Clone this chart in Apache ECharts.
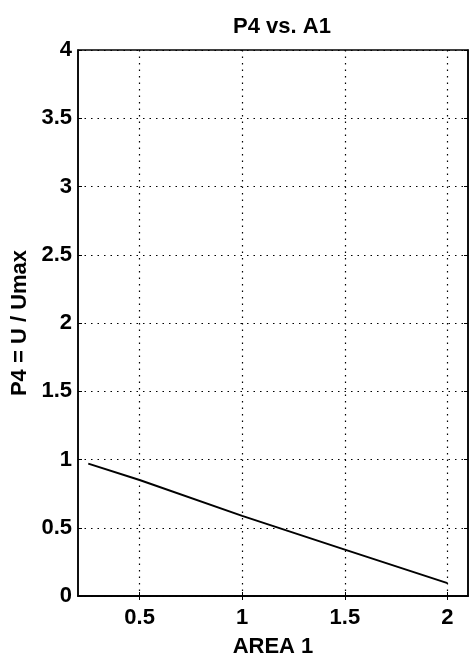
<!DOCTYPE html>
<html>
<head>
<meta charset="utf-8">
<script src="https://cdn.jsdelivr.net/npm/echarts@6/dist/echarts.min.js"></script>
<style>
  html, body { margin: 0; padding: 0; background: #fff; }
  #chart { width: 469px; height: 663px; }
</style>
</head>
<body>
<div id="chart"></div>
<script>
// values
const area1 = [0.25, 0.5, 1, 1.5, 2];
const p4 = [0.97, 0.85, 0.587, 0.34, 0.094];
const xTicks = [0.5, 1, 1.5, 2];

const chart = echarts.init(document.getElementById('chart'));

const dotted = { color: '#000', width: 1.2, type: [1.5, 5] };
const font = 'Liberation Sans, Arial, sans-serif';

const option = {
  animation: false,
  title: {
    text: 'P4 vs. A1',
    left: 277,
    textAlign: 'center',
    top: 11,
    textStyle: { fontFamily: font, fontSize: 22, fontWeight: 'bold', color: '#000' }
  },
  grid: {
    left: 78, right: 1, top: 50, bottom: 64,
    show: true, borderColor: '#000', borderWidth: 1.5
  },
  xAxis: [
    {
      type: 'value',
      min: 0.2,
      max: 2.1,
      name: 'AREA 1',
      nameLocation: 'middle',
      nameGap: 40,
      nameTextStyle: { fontFamily: font, fontSize: 22, fontWeight: 'bold', color: '#000' },
      axisLine: { show: true, onZero: false, lineStyle: { color: '#000', width: 1.5 } },
      axisTick: { show: true, inside: true, length: 4, customValues: xTicks, lineStyle: { color: '#000' } },
      axisLabel: { customValues: xTicks, margin: 11, fontFamily: font, fontSize: 22, fontWeight: 'bold', color: '#000' },
      splitLine: { show: true, customValues: xTicks, lineStyle: dotted }
    },
    {
      type: 'value',
      position: 'top',
      min: 0.2,
      max: 2.1,
      axisLine: { show: true, lineStyle: { color: '#000', width: 1.5 } },
      axisTick: { show: true, inside: true, length: 4, customValues: xTicks, lineStyle: { color: '#000' } },
      axisLabel: { show: false },
      splitLine: { show: false }
    }
  ],
  yAxis: [
    {
      type: 'value',
      min: 0,
      max: 4,
      interval: 0.5,
      name: 'P4 = U / Umax',
      nameLocation: 'middle',
      nameGap: 46,
      nameTextStyle: { fontFamily: font, fontSize: 22, fontWeight: 'bold', color: '#000' },
      axisLine: { show: true, lineStyle: { color: '#000', width: 1.5 } },
      axisTick: { show: true, inside: true, length: 4, lineStyle: { color: '#000' } },
      axisLabel: { margin: 6, fontFamily: font, fontSize: 22, fontWeight: 'bold', color: '#000' },
      splitLine: { show: true, lineStyle: dotted }
    },
    {
      type: 'value',
      position: 'right',
      min: 0,
      max: 4,
      interval: 0.5,
      axisLine: { show: true, lineStyle: { color: '#000', width: 1.5 } },
      axisTick: { show: true, inside: true, length: 4, lineStyle: { color: '#000' } },
      axisLabel: { show: false },
      splitLine: { show: false }
    }
  ],
  series: [
    {
      type: 'line',
      data: area1.map((x, i) => [x, p4[i]]),
      showSymbol: false,
      lineStyle: { color: '#000', width: 2 }
    }
  ]
};

chart.setOption(option);
</script>
</body>
</html>
